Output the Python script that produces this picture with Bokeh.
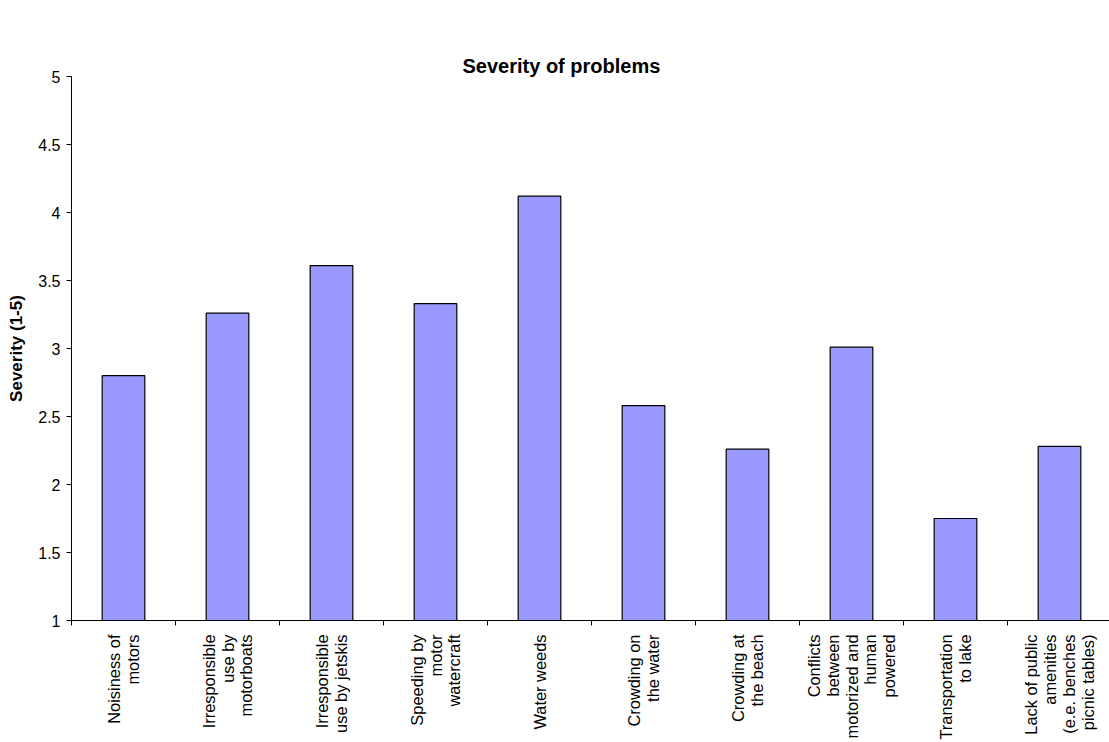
import math
from bokeh.plotting import figure
from bokeh.models import ColumnDataSource, FixedTicker, Range1d, LinearAxis, Title
from bokeh.embed import file_html
from bokeh.resources import INLINE

# Survey results: mean severity rating per problem (scale 1-5)
problems = [
    ["Noisiness of", "motors"],
    ["Irresponsible", "use by", "motorboats"],
    ["Irresponsible", "use by jetskis"],
    ["Speeding by", "motor", "watercraft"],
    ["Water weeds"],
    ["Crowding on", "the water"],
    ["Crowding at", "the beach"],
    ["Conflicts", "between", "motorized and", "human", "powered"],
    ["Transportation", "to lake"],
    ["Lack of public", "amenities", "(e.e. benches", "picnic tables)"],
]
severity = [2.80, 3.26, 3.61, 3.33, 4.12, 2.58, 2.26, 3.01, 1.75, 2.28]
y_ticks = [1, 1.5, 2, 2.5, 3, 3.5, 4, 4.5, 5]
title = "Severity of problems"
y_title = "Severity (1-5)"

FONT = "Liberation Sans"
W, H = 1109, 742
LEFT, TOP = 71, 76
cat_px = 104.0
n = len(problems)
centers = [i + 0.5 for i in range(n)]
bounds = list(range(n + 1))

p = figure(width=W, height=H, output_backend="svg", toolbar_location=None,
           x_range=Range1d(0, (W - LEFT) / cat_px), y_range=Range1d(1, 5),
           min_border_left=LEFT, min_border_right=0, min_border_top=TOP,
           min_border_bottom=0)
p.title_location = None
p.outline_line_color = None
p.grid.visible = False
p.background_fill_color = "white"
p.border_fill_color = "white"

src = ColumnDataSource(dict(x=centers, top=severity))
p.vbar(x="x", top="top", bottom=1, width=0.41, source=src,
       fill_color="#9999FF", line_color="black", line_width=1.2)

# category axis: labels at the centres, tick marks on the boundaries
xa = p.xaxis[0]
xa.ticker = FixedTicker(ticks=centers, minor_ticks=bounds)
xa.major_label_overrides = {c: "\n".join(l) for c, l in zip(centers, problems)}
xa.major_label_orientation = math.pi / 2
xa.major_label_text_font = FONT
xa.major_label_text_font_size = "16.4px"
xa.major_label_text_color = "black"
xa.major_label_text_line_height = 1.04
xa.major_label_standoff = 9
xa.major_tick_line_color = None
xa.major_tick_in = 0
xa.major_tick_out = 0
xa.minor_tick_in = 0
xa.minor_tick_out = 5
xa.minor_tick_line_color = "black"
xa.axis_line_color = "black"

# value axis
ya = p.yaxis[0]
ya.ticker = FixedTicker(ticks=y_ticks)
ya.major_label_overrides = {t: f"{t:g}" for t in y_ticks}
ya.major_label_text_font = FONT
ya.major_label_text_font_size = "16px"
ya.major_label_text_color = "black"
ya.major_label_standoff = 6
ya.major_tick_in = 0
ya.major_tick_out = 5
ya.minor_tick_line_color = None
ya.axis_line_color = "black"
ya.major_tick_line_color = "black"
ya.axis_label = y_title
ya.axis_label_text_font = FONT
ya.axis_label_text_font_style = "bold"
ya.axis_label_text_font_size = "17px"
ya.axis_label_text_color = "black"
ya.axis_label_standoff = 9

# empty band between the title and the plot area
gap = LinearAxis(ticker=FixedTicker(ticks=[]), major_tick_out=49,
                 major_tick_in=0, axis_line_color=None,
                 major_tick_line_color="white", minor_tick_line_color=None,
                 major_label_text_font_size="0px", major_label_standoff=0)
p.add_layout(gap, "above")

heading = Title(text=title, align="left", offset=391, standoff=0,
                vertical_align="bottom", text_font=FONT,
                text_font_style="bold", text_font_size="20px",
                text_color="black")
p.add_layout(heading, "above")

open("out.html", "w").write(file_html(p, INLINE))
